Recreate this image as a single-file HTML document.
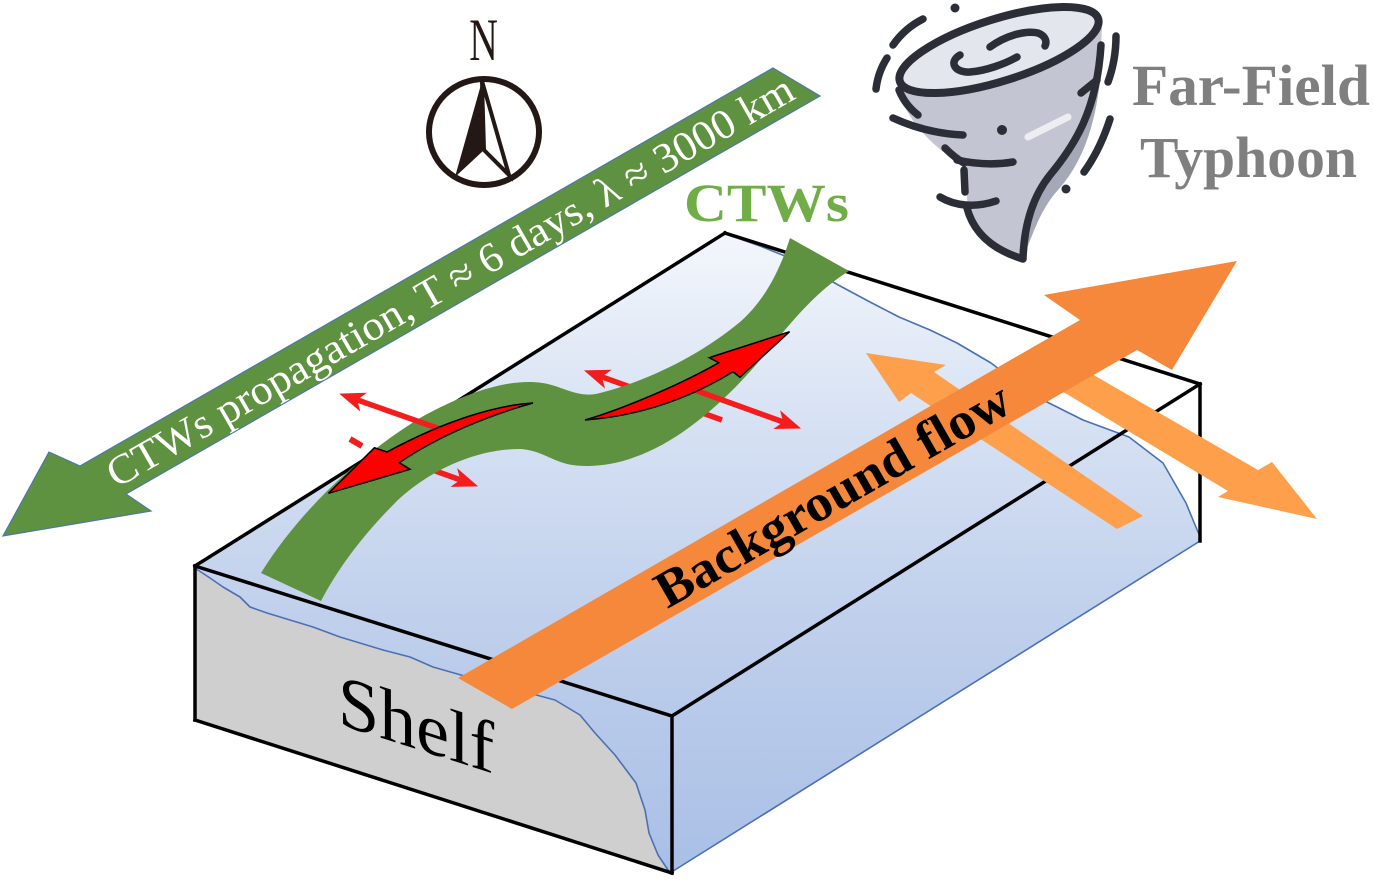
<!DOCTYPE html>
<html>
<head>
<meta charset="utf-8">
<style>
html,body{margin:0;padding:0;background:#ffffff;}
svg{display:block;}
</style>
</head>
<body>
<svg width="1373" height="886" viewBox="0 0 1373 886" xmlns="http://www.w3.org/2000/svg">
  <defs>
    <linearGradient id="water" gradientUnits="userSpaceOnUse" x1="0" y1="233" x2="0" y2="873">
      <stop offset="0" stop-color="#f4f7fc"/>
      <stop offset="0.3" stop-color="#d6e1f3"/>
      <stop offset="0.6" stop-color="#c0d0ec"/>
      <stop offset="1" stop-color="#a9bfe6"/>
    </linearGradient>
    <marker id="rh" viewBox="0 0 26 20" refX="7" refY="10" markerWidth="26" markerHeight="20" markerUnits="userSpaceOnUse" orient="auto">
      <path d="M0,0 L26,10 L0,20 L7,10 Z" fill="#f41c1c"/>
    </marker>
  </defs>

  <rect x="0" y="0" width="1373" height="886" fill="#ffffff"/>

  <!-- Water (blue) region -->
  <path d="M195,566
           L210,578 L223,587 L240,597 L250,607 L267,613 L290,620 L313,627 L340,637 L383,650 L410,657 L433,667 L461,675 L510,688 L555,700 L580,715 L595,733 L615,755 L636,783 L645,810 L649,833 L658,855 L670,873
           L1200,541
           L1186,503 L1163,463 L1129,437 L1083,420 L1043,400 L1020,385 L991,363 L957,343 L930,330 L899,317 L870,302 L842,287 L820,275 L790,258 L760,246 L740,239 L725,234 Z"
        fill="url(#water)"/>
  <!-- Shelf (grey) region -->
  <path d="M195,568
           L210,578 L223,587 L240,597 L250,607 L267,613 L290,620 L313,627 L340,637 L383,650 L410,657 L433,667 L461,675 L510,688 L555,700 L580,715 L595,733 L615,755 L636,783 L645,810 L649,833 L658,855 L668,872
           L672,873 L195,720 Z"
        fill="#d0cfcf"/>
  <!-- wavy water boundary lines -->
  <g fill="none" stroke="#4a70b5" stroke-width="1.6" stroke-linejoin="round">
    <polyline points="195,568 210,578 223,587 240,597 250,607 267,613 290,620 313,627 340,637 383,650 410,657 433,667 461,675 510,688 555,700 580,715 595,733 615,755 636,783 645,810 649,833 658,855 670,873 1200,541"/>
    <polyline points="1200,537 1186,503 1163,463 1129,437 1083,420 1043,400 1020,385 991,363 957,343 930,330 899,317 870,302 842,287 820,275 790,258 760,246 740,239 725,234"/>
  </g>

  <!-- Box edges -->
  <g stroke="#000" stroke-width="3.5" stroke-linecap="square" fill="none">
    <line x1="195" y1="566" x2="725" y2="233"/>
    <line x1="725" y1="233" x2="1200" y2="384"/>
    <line x1="1200" y1="384" x2="1200" y2="541"/>
    <line x1="195" y1="566" x2="672" y2="716"/>
    <line x1="672" y1="716" x2="1200" y2="384"/>
    <line x1="672" y1="716" x2="672" y2="873"/>
    <line x1="195" y1="566" x2="195" y2="720"/>
    <line x1="195" y1="720" x2="672" y2="873"/>
  </g>

  <!-- Green propagation arrow -->
  <path d="M773,68 L820,96 L126,494 L151,511 L3,536 L49,452 L80,466 Z" fill="#5f9240" stroke="#4a78ae" stroke-width="1.2"/>
  <text transform="translate(450,281) rotate(-29.85)" text-anchor="middle" dy="14" font-family="'Liberation Serif', serif" font-size="42" fill="#ffffff" textLength="785" lengthAdjust="spacingAndGlyphs">CTWs propagation, T ≈ 6 days, λ ≈ 3000 km</text>

  <!-- thin red arrows under the band -->
  <g stroke="#f41c1c" stroke-width="5.5" fill="none">
    <line x1="405" y1="460" x2="460.3" y2="479.9" marker-end="url(#rh)"/>
    <line x1="722" y1="420" x2="601.8" y2="376.8" marker-end="url(#rh)"/>
    <line x1="350" y1="439" x2="362" y2="446" stroke-width="6"/>
  </g>

  <!-- CTW green band -->
  <path d="M261,573 C300,510 360,455 420,418 C470,390 520,374 555,386 C575,393 585,397 600,393 C650,380 700,355 740,322 C765,300 780,270 790,238
           L849,271 C823,287 803,308 774,343 C734,394 684,440 635,457 C612,466 585,468 567,464 C549,459 539,450 520,449 C472,449 424,474 394,504 C364,534 338,568 321,601 Z"
        fill="#5f9240"/>

  <!-- thin red arrows over the band -->
  <g stroke="#f41c1c" stroke-width="5.5" fill="none">
    <line x1="440" y1="429" x2="357.1" y2="399.9" marker-end="url(#rh)"/>
    <line x1="692" y1="389" x2="783.2" y2="422" marker-end="url(#rh)"/>
  </g>

  <!-- big curved red arrows -->
  <path d="M533,403 C500,405 450,418 387,452 L374.4,447.7 L328.5,493.3 L410,469.3 L399.3,462.7 C440,435 490,415 533,403 Z" fill="#ff0000" stroke="#000" stroke-width="1.5" stroke-linejoin="miter"/>
  <path d="M585,420 C620,410 680,385 718.8,362.7 L709.2,357.7 L789.6,331.7 L739.9,377.3 L733,371.7 C700,392 650,415 585,420 Z" fill="#ff0000" stroke="#000" stroke-width="1.5" stroke-linejoin="miter"/>

  <!-- light orange arrows -->
  <path d="M866,353 L946,365 L934,372 L1143,516 L1117,529 L911,393 L899,402 Z" fill="#fd9f4b"/>
  <path d="M1059,355 L1258,470 L1272,462 L1317,519 L1218,497 L1228,491 L1030,372 Z" fill="#fd9f4b"/>

  <!-- Main orange background flow arrow -->
  <path d="M458,678 L1080,320 L1044,295 L1237,261 L1172,370 L1137,350 L512,709 Z" fill="#f5883b"/>
  <text transform="translate(832,494) rotate(-29.8)" text-anchor="middle" dy="18" font-family="'Liberation Serif', serif" font-weight="bold" font-size="52" fill="#000" textLength="400" lengthAdjust="spacingAndGlyphs">Background flow</text>

  <!-- Shelf label -->
  <text transform="translate(338,724) skewY(17.7)" font-family="'Liberation Serif', serif" font-size="74" fill="#000">Shelf</text>

  <!-- CTWs label -->
  <text x="684" y="221" font-family="'Liberation Serif', serif" font-weight="bold" font-size="54" fill="#70ad47" textLength="165" lengthAdjust="spacingAndGlyphs">CTWs</text>

  <!-- Compass -->
  <text transform="translate(483.5,60) scale(0.66,1)" text-anchor="middle" font-family="'Liberation Serif', serif" font-size="60" fill="#231815">N</text>
  <ellipse cx="484" cy="132" rx="55" ry="53" fill="none" stroke="#231815" stroke-width="6"/>
  <path d="M482,81 L455,177 L484,150 L487,107 Z" fill="#231815"/>
  <path d="M482,81 L509,175 L484,150 Z" fill="#fff" stroke="#231815" stroke-width="4" stroke-linejoin="miter"/>

  <!-- Typhoon icon -->
  <g>
    <path d="M898,86 C903,118 935,150 964,165 L968,208 C978,238 1000,252 1023,259 C1023,230 1030,200 1050,178 C1080,145 1098,105 1102,28 Z" fill="#c3c6d2"/>
    <path d="M1098,50 C1093,115 1070,150 1045,182 C1030,205 1024,232 1023,258 C1034,232 1040,210 1058,190 C1085,160 1100,115 1102,50 Z" fill="#a5a9b7"/>
    <line x1="1028" y1="137" x2="1068" y2="117" stroke="#eceef2" stroke-width="7" stroke-linecap="round"/>
    <ellipse cx="999" cy="50" rx="104" ry="31" transform="rotate(-17.5 999 50)" fill="#e4e6ed" stroke="#2b2e36" stroke-width="8"/>
    <g fill="none" stroke="#2b2e36" stroke-width="7.5" stroke-linecap="round" stroke-linejoin="round">
      <path d="M1101,45 C1097,110 1075,145 1050,175 C1030,200 1024,230 1023,258"/>
      <path d="M899,90 Q905,105 918,115"/>
      <path d="M945,148 Q955,158 964,163"/>
      <path d="M964,170 L965,192"/>
      <path d="M967,208 C975,238 1000,252 1023,259"/>
      <path d="M893,118 C915,128 940,134 963,135"/>
      <path d="M957,160 C975,164 995,165 1013,162"/>
      <path d="M940,197 C955,206 975,208 996,201"/>
      <path d="M923,19 Q905,28 893,45"/>
      <path d="M887,58 Q878,72 876,89"/>
      <path d="M1116,36 Q1116,60 1108,82"/>
      <path d="M1110,119 Q1100,150 1084,172"/>
      <path d="M1081,93 L1097,80"/>
      <path d="M960,55 C948,62 955,73 970,72 C985,71 1005,64 1017,57"/>
      <path d="M990,47 C1005,36 1025,30 1038,33 C1046,36 1047,42 1045,46"/>
    </g>
    <circle cx="955" cy="8" r="4.5" fill="#2b2e36"/>
    <circle cx="1066" cy="189" r="4.5" fill="#2b2e36"/>
    <circle cx="1002" cy="130" r="5" fill="#2b2e36"/>
  </g>

  <!-- Far-Field Typhoon label -->
  <text x="1132" y="105" font-family="'Liberation Serif', serif" font-weight="bold" font-size="58" fill="#7f7f7f" textLength="238" lengthAdjust="spacingAndGlyphs">Far-Field</text>
  <text x="1140" y="177" font-family="'Liberation Serif', serif" font-weight="bold" font-size="58" fill="#7f7f7f" textLength="217" lengthAdjust="spacingAndGlyphs">Typhoon</text>
</svg>
</body>
</html>
